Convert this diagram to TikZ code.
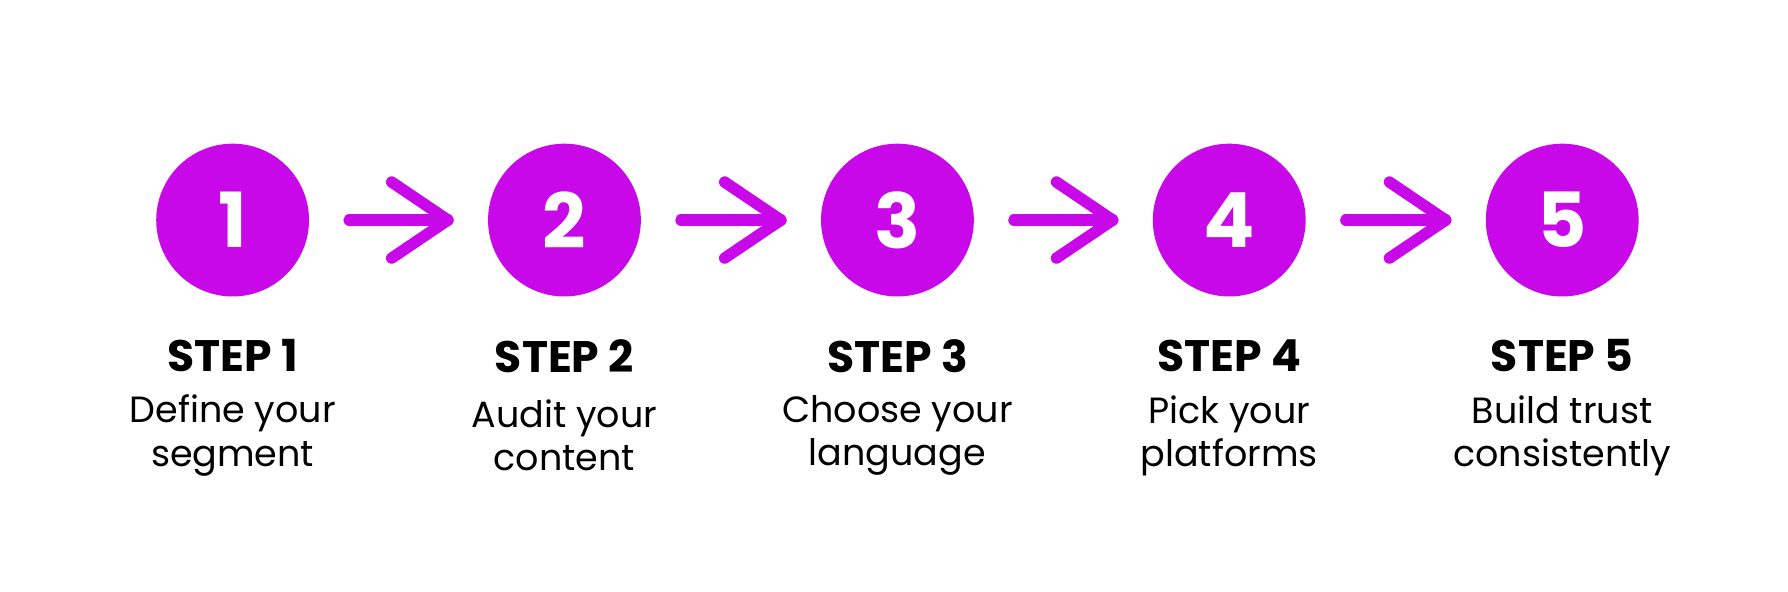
\documentclass[tikz,border=0pt]{standalone}
\usepackage{fontspec}
\setmainfont{Poppins}
\definecolor{stepviolet}{RGB}{200,8,232}
\tikzset{every picture/.style={line width=0.75pt}}
\tikzset{
  stepdot/.style={circle,fill=stepviolet,draw=none,minimum size=100.5pt,inner sep=0pt,text=white,font=\fontsize{50}{50}\selectfont\bfseries},
  steptitle/.style={inner sep=0.75pt,font=\fontsize{29}{30}\selectfont\bfseries},
  stepdesc/.style={inner sep=0.75pt,align=center,font=\fontsize{24}{28.5}\selectfont},
  steparrow/.style={draw=stepviolet,line width=7.5pt,line cap=round,line join=round}
}
\begin{document}
\begin{tikzpicture}[x=0.75pt,y=0.75pt,yscale=-1,xscale=1]
        \useasboundingbox (0,0) rectangle (1568,519);

        % Step circles, titles and texts
        \foreach \n/\x/\ta/\tb in {1/204/Define your/segment,2/495/Audit your/content,3/787/Choose your/language,4/1078/Pick your/platforms,5/1370/Build trust/consistently}{
          \node [stepdot] (c\n) at (\x,193) {\n};
          \node [steptitle] (t\n) at (\x,312) {STEP \n};
          \node [stepdesc] (d\n) at (\x,382) {\ta\\\tb};
        }

        % Arrows between circles
        \foreach \a/\b in {1/2,2/3,3/4,4/5}{
          \coordinate (s\a) at ([xshift=26]c\a.east);
          \coordinate (e\a) at ([xshift=-26]c\b.west);
          \draw [steparrow] (s\a) -- (e\a);
          \draw [steparrow] ([xshift=-37,yshift=-25]e\a) -- (e\a) -- ([xshift=-37,yshift=25]e\a);
        }

    \end{tikzpicture}
\end{document}
